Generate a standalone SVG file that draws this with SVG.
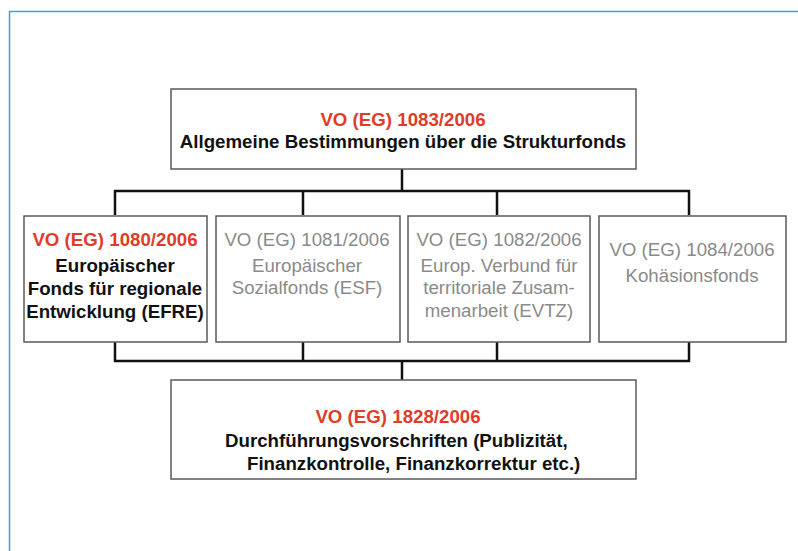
<svg xmlns="http://www.w3.org/2000/svg" width="798" height="551" viewBox="0 0 798 551">
<style>
.box{fill:#fff;stroke:#5a5a5a;stroke-width:1.5}
.con{fill:none;stroke:#111;stroke-width:2.5}
text{font-family:"Liberation Sans",Arial,sans-serif;font-size:18.7px;text-anchor:middle}
.red{fill:#e03c2a;font-weight:bold}
.blk{fill:#111;font-weight:bold}
.gry{fill:#8a8a8a}
</style>
<rect width="798" height="551" fill="#fff"/>
<path d="M9.5 551 V11.5 H798" fill="none" stroke="#3aa3dc" stroke-width="1.5"/>
<g id="connectors">
<path class="con" d="M402 169 V191 M115 215 V191 H689 V215 M303 191 V215 M497 191 V215"/>
<path class="con" d="M115 342 V361 H689 V342 M303 342 V361 M497 342 V361 M402 361 V380"/>
</g>
<g id="n1083">
<rect class="box" x="171" y="89" width="465" height="80"/>
<text class="red" x="403" y="126">VO (EG) 1083/2006</text>
<text class="blk" x="403" y="148">Allgemeine Bestimmungen über die Strukturfonds</text>
</g>
<g id="n1080">
<rect class="box" x="24" y="216" width="183" height="126"/>
<text class="red" x="115" y="246">VO (EG) 1080/2006</text>
<text class="blk" x="115" y="272">Europäischer</text>
<text class="blk" x="115" y="295">Fonds für regionale</text>
<text class="blk" x="115" y="318">Entwicklung (EFRE)</text>
</g>
<g id="n1081">
<rect class="box" x="216" y="216" width="184" height="126"/>
<text class="gry" x="307" y="246">VO (EG) 1081/2006</text>
<text class="gry" x="307" y="272">Europäischer</text>
<text class="gry" x="307" y="294">Sozialfonds (ESF)</text>
</g>
<g id="n1082">
<rect class="box" x="408" y="216" width="182" height="126"/>
<text class="gry" x="499" y="246">VO (EG) 1082/2006</text>
<text class="gry" x="499" y="272">Europ. Verbund für</text>
<text class="gry" x="499" y="294">territoriale Zusam-</text>
<text class="gry" x="499" y="317">menarbeit (EVTZ)</text>
</g>
<g id="n1084">
<rect class="box" x="599" y="216" width="187" height="126"/>
<text class="gry" x="692" y="256">VO (EG) 1084/2006</text>
<text class="gry" x="692" y="282">Kohäsionsfonds</text>
</g>
<g id="n1828">
<rect class="box" x="171" y="380" width="465" height="99"/>
<text class="red" x="398" y="423">VO (EG) 1828/2006</text>
<text class="blk" x="225" y="447" style="text-anchor:start">Durchführungsvorschriften (Publizität,</text>
<text class="blk" x="247" y="470" style="text-anchor:start">Finanzkontrolle, Finanzkorrektur etc.)</text>
</g>
</svg>
